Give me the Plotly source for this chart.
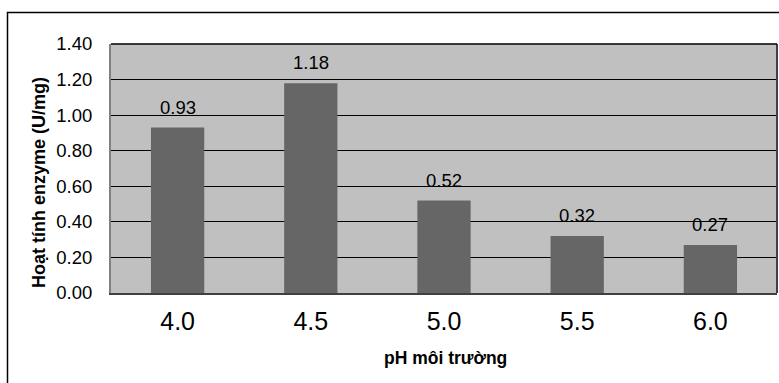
import plotly.graph_objects as go

categories = ["4.0", "4.5", "5.0", "5.5", "6.0"]
values = [0.93, 1.18, 0.52, 0.32, 0.27]
labels = ["0.93", "1.18", "0.52", "0.32", "0.27"]
y_ticks = [0, 0.2, 0.4, 0.6, 0.8, 1.0, 1.2, 1.4]
y_ticklabels = ["0.00", "0.20", "0.40", "0.60", "0.80", "1.00", "1.20", "1.40"]

W, H = 779, 383
ML, MR, MT, MB = 111, 2, 44, 90
PW, PH = W - ML - MR, H - MT - MB

def px_to_paper_x(px):
    return (px - ML) / PW

def px_to_paper_y(py):
    return (H - MB - py) / PH

FONT = "Liberation Sans, Arial"

fig = go.Figure()
fig.add_trace(go.Bar(
    x=categories, y=values, width=0.4,
    marker=dict(color="#666666", line=dict(width=0)),
    hoverinfo="skip",
))

for i, (v, t) in enumerate(zip(values, labels)):
    fig.add_annotation(x=i, y=v, text=t, showarrow=False, xanchor="center",
                       yanchor="bottom", yshift=8,
                       font=dict(family=FONT, size=18.5, color="#000000"))

fig.add_annotation(xref="paper", yref="paper", x=px_to_paper_x(39), y=px_to_paper_y(183),
                   text="<b>Hoạt tính enzyme (U/mg)</b>", textangle=-90, showarrow=False,
                   xanchor="center", yanchor="middle",
                   font=dict(family=FONT, size=18, color="#000000"))
fig.add_annotation(xref="paper", yref="paper", x=px_to_paper_x(445), y=px_to_paper_y(358),
                   text="<b>pH môi trường</b>", showarrow=False,
                   xanchor="center", yanchor="middle",
                   font=dict(family=FONT, size=17.5, color="#000000"))

# outer chart border (extends beyond the visible canvas on right/bottom)
fig.add_shape(type="rect", xref="paper", yref="paper",
              x0=px_to_paper_x(7.5), x1=px_to_paper_x(800),
              y0=px_to_paper_y(420), y1=px_to_paper_y(12.5),
              line=dict(color="#000000", width=1.5), fillcolor="rgba(0,0,0,0)", layer="below")

fig.update_layout(
    width=W, height=H,
    margin=dict(l=ML, r=MR, t=MT, b=MB, pad=0),
    paper_bgcolor="#FFFFFF",
    plot_bgcolor="#C0C0C0",
    showlegend=False,
    xaxis=dict(
        type="category", range=[-0.5, len(categories) - 0.5],
        showgrid=False, showline=True, linecolor="#404040", linewidth=1.5,
        ticks="", tickfont=dict(family=FONT, size=25, color="#000000"),
        ticklabelstandoff=5, mirror=False, zeroline=False,
    ),
    yaxis=dict(
        range=[0, 1.4], tickvals=y_ticks, ticktext=y_ticklabels,
        showgrid=True, gridcolor="#000000", gridwidth=1,
        showline=True, linecolor="#808080", linewidth=2, mirror=False,
        ticks="", tickfont=dict(family=FONT, size=18.5, color="#000000"),
        ticklabelstandoff=13, zeroline=False,
    ),
)

# right and top edge of plot area
fig.add_shape(type="line", xref="paper", yref="paper", x0=1, x1=1, y0=0, y1=1,
              line=dict(color="#404040", width=2))
fig.add_shape(type="line", xref="paper", yref="paper", x0=0, x1=1, y0=1, y1=1,
              line=dict(color="#000000", width=1.5))

fig.write_html("out.html")
